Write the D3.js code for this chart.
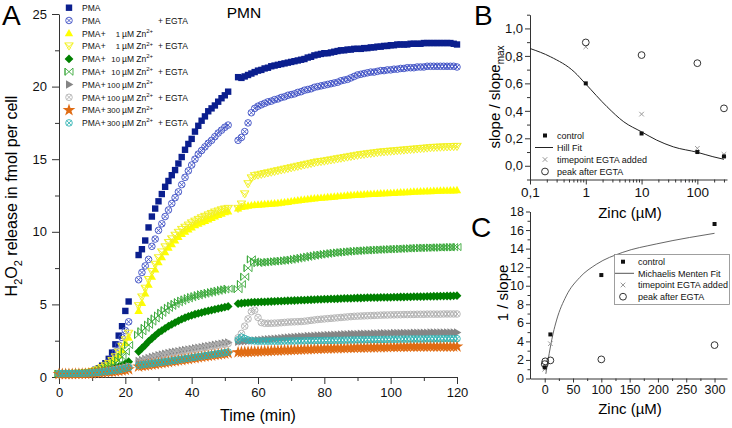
<!DOCTYPE html>
<html><head><meta charset="utf-8">
<script src="https://cdn.jsdelivr.net/npm/d3@7"></script>
<style>
body{margin:0;background:#fff;}
svg{display:block;font-family:"Liberation Sans",Arial,sans-serif;}
</style></head><body>
<svg id="c" width="732" height="428"></svg>
<script>
// ---------------- Panel A data (time in min, H2O2 in fmol per cell) ----------------
const times = [0,1,2,3,4,5,6,7,8,9,10,11,12,13,14,15,16,17,18,19,20,21,
24,25,26,27,28,29,30,31,32,33,34,35,36,37,38,39,40,41,42,43,44,45,46,47,48,49,50,51,
54,55,56,57,58,59,60,61,62,63,64,65,66,67,68,69,70,71,72,73,74,75,76,77,78,79,80,81,82,83,84,85,86,87,88,89,90,91,92,93,94,95,96,97,98,99,100,101,102,103,104,105,106,107,108,109,110,111,112,113,114,115,116,117,118,119,120];

const pma = [0.2,0.2,0.21,0.21,0.22,0.23,0.24,0.26,0.28,0.32,
0.4,0.5,0.6,0.78,0.95,1.25,1.68,2.25,2.85,3.5,4.55,5.2,
8.4,8.8,9.4,10.3,11.05,11.6,12.1,12.6,13.1,13.5,13.9,14.25,14.7,15.15,15.65,16.05,16.4,16.9,17.3,17.65,17.95,18.3,18.5,18.7,18.96,19.2,19.4,19.65,
20.65,20.6,20.7,20.8,20.9,21.0,21.1,21.15,21.25,21.3,
21.4,21.45,21.5,21.55,21.6,21.65,21.7,21.75,21.8,21.85,
21.9,22.0,22.05,22.15,22.2,22.25,22.3,22.3,22.35,22.4,
22.45,22.5,22.5,22.55,22.55,22.6,22.6,22.6,22.65,22.65,
22.7,22.7,22.75,22.75,22.8,22.8,22.85,22.85,22.9,22.9,
22.9,22.9,22.95,22.95,22.95,22.95,23.0,23.0,23.0,23.0,
23.0,23.0,23.0,23.0,23.0,22.95,22.9];

const pmaEgta = [0.22,0.22,0.22,0.23,0.23,0.24,0.25,0.27,0.29,0.32,
0.36,0.44,0.55,0.68,0.84,1.04,1.33,1.72,2.2,2.72,3.2,3.8,
6.7,7.2,7.65,8.1,9.0,9.5,10.1,10.55,11.05,11.5,11.95,12.35,12.75,13.25,13.75,14.2,14.6,15.0,15.35,15.6,15.85,16.1,16.3,16.55,16.8,17.0,17.2,17.35,
16.3,16.5,16.9,17.5,18.2,18.5,18.65,18.75,18.85,18.95,
19.0,19.1,19.15,19.25,19.3,19.4,19.45,19.5,19.6,19.65,
19.75,19.8,19.85,19.95,20.0,20.05,20.1,20.15,20.2,20.25,
20.3,20.4,20.45,20.5,20.6,20.7,20.8,20.85,20.9,20.95,
21.0,21.0,21.05,21.1,21.1,21.15,21.15,21.2,21.2,21.25,
21.25,21.3,21.3,21.3,21.35,21.35,21.35,21.4,21.4,21.4,
21.4,21.4,21.4,21.4,21.4,21.4,21.35];

const zn1 = [0.2,0.2,0.2,0.21,0.22,0.22,0.23,0.25,0.27,0.3,
0.35,0.42,0.5,0.6,0.72,0.85,1.05,1.25,1.5,1.85,2.35,2.7,
4.55,5.1,5.75,6.35,6.9,7.4,7.9,8.25,8.6,8.9,9.15,9.4,9.65,9.85,10.0,10.15,10.3,10.45,10.55,10.65,10.75,10.85,10.95,11.05,11.15,11.25,11.35,11.4,
11.6,11.7,11.75,11.8,11.82,11.85,11.87,11.88,11.9,11.92,
11.94,11.95,11.97,12.0,12.03,12.06,12.1,12.13,12.16,12.19,
12.22,12.25,12.28,12.3,12.32,12.34,12.36,12.38,12.4,12.42,
12.44,12.46,12.48,12.5,12.52,12.53,12.55,12.56,12.58,12.59,
12.6,12.61,12.62,12.64,12.65,12.66,12.67,12.68,12.7,12.71,
12.72,12.73,12.74,12.76,12.77,12.78,12.79,12.8,12.8,12.81,
12.82,12.83,12.84,12.84,12.85,12.85,12.86];

const zn1Egta = [0.22,0.22,0.22,0.23,0.23,0.24,0.25,0.26,0.28,0.31,
0.35,0.43,0.52,0.63,0.76,0.92,1.12,1.38,1.7,2.1,2.55,3.0,
4.9,5.5,6.1,6.7,7.25,7.75,8.2,8.6,8.95,9.25,9.5,9.75,9.95,10.15,10.3,10.45,10.6,10.72,10.84,10.95,11.05,11.15,11.25,11.35,11.42,11.5,11.56,11.6,
11.6,11.9,12.6,13.3,13.7,13.85,13.9,13.95,14.0,14.05,
14.1,14.15,14.2,14.25,14.3,14.35,14.4,14.45,14.5,14.55,
14.6,14.65,14.7,14.75,14.8,14.83,14.86,14.9,14.94,14.98,
15.02,15.06,15.1,15.14,15.18,15.22,15.26,15.3,15.33,15.36,
15.39,15.42,15.45,15.48,15.5,15.52,15.54,15.56,15.58,15.6,
15.62,15.64,15.66,15.68,15.7,15.72,15.74,15.76,15.78,15.8,
15.81,15.82,15.83,15.84,15.85,15.86,15.87];

const zn10 = [0.2,0.2,0.2,0.2,0.21,0.21,0.22,0.23,0.24,0.26,
0.28,0.31,0.35,0.4,0.45,0.5,0.56,0.63,0.71,0.8,0.92,1.05,
1.75,1.98,2.2,2.45,2.65,2.85,3.05,3.2,3.35,3.5,3.63,3.75,3.87,3.98,4.08,4.17,4.25,4.32,4.38,4.44,4.5,4.55,4.6,4.66,4.71,4.76,4.81,4.86,
5.05,5.08,5.1,5.12,5.14,5.15,5.16,5.17,5.18,5.19,
5.2,5.21,5.22,5.23,5.24,5.25,5.26,5.27,5.28,5.29,
5.3,5.31,5.32,5.33,5.34,5.35,5.36,5.37,5.38,5.38,
5.39,5.4,5.41,5.42,5.42,5.43,5.44,5.44,5.45,5.46,
5.46,5.47,5.47,5.48,5.48,5.49,5.49,5.5,5.5,5.51,
5.51,5.52,5.52,5.53,5.53,5.54,5.54,5.55,5.55,5.56,
5.56,5.57,5.57,5.58,5.58,5.59,5.6];

const zn10Egta = [0.22,0.22,0.22,0.22,0.23,0.23,0.24,0.25,0.26,0.28,
0.3,0.35,0.4,0.47,0.55,0.65,0.78,0.95,1.15,1.4,1.75,2.2,
2.9,3.15,3.38,3.6,3.82,4.03,4.23,4.42,4.6,4.76,4.9,5.03,5.15,5.25,5.34,5.42,5.5,5.56,5.63,5.69,5.74,5.79,5.84,5.89,5.94,5.99,6.03,6.08,
6.05,6.4,6.9,7.5,8.1,7.95,7.85,7.88,7.9,7.92,
7.94,7.96,7.98,8.0,8.02,8.05,8.08,8.12,8.16,8.2,
8.24,8.28,8.32,8.36,8.4,8.43,8.46,8.49,8.52,8.55,
8.57,8.59,8.61,8.63,8.65,8.67,8.68,8.7,8.71,8.72,
8.74,8.75,8.76,8.77,8.78,8.79,8.8,8.81,8.82,8.83,
8.84,8.85,8.86,8.87,8.88,8.89,8.9,8.9,8.91,8.91,
8.92,8.92,8.93,8.93,8.94,8.94,8.95];

const zn100 = [0.2,0.2,0.2,0.2,0.21,0.21,0.21,0.22,0.23,0.25,
0.27,0.3,0.33,0.36,0.39,0.43,0.47,0.52,0.57,0.62,0.68,0.75,
1.1,1.17,1.24,1.31,1.38,1.44,1.5,1.55,1.6,1.65,1.7,1.74,1.78,1.82,1.86,1.9,1.94,1.98,2.02,2.06,2.1,2.14,2.18,2.22,2.26,2.3,2.34,2.38,
2.42,2.44,2.46,2.48,2.5,2.52,2.54,2.56,2.58,2.6,
2.62,2.64,2.66,2.68,2.7,2.72,2.74,2.76,2.78,2.79,
2.8,2.82,2.83,2.84,2.86,2.87,2.88,2.89,2.9,2.91,
2.92,2.93,2.94,2.95,2.96,2.96,2.97,2.98,2.98,2.99,
2.99,3.0,3.0,3.01,3.01,3.02,3.02,3.03,3.03,3.03,
3.04,3.04,3.04,3.05,3.05,3.05,3.05,3.05,3.06,3.06,
3.06,3.06,3.06,3.06,3.06,3.06,3.06];

const zn100Egta = [0.22,0.22,0.22,0.22,0.22,0.23,0.23,0.24,0.25,0.26,
0.28,0.3,0.33,0.36,0.39,0.42,0.46,0.5,0.55,0.6,0.65,0.72,
1.05,1.12,1.19,1.25,1.31,1.37,1.42,1.47,1.52,1.57,1.62,1.66,1.7,1.74,1.78,1.82,1.86,1.9,1.94,1.98,2.02,2.06,2.1,2.14,2.18,2.22,2.26,2.3,
2.7,3.0,3.5,4.0,4.5,4.6,4.1,3.75,3.7,3.7,
3.7,3.71,3.72,3.74,3.76,3.78,3.79,3.8,3.81,3.82,
3.84,3.87,3.9,3.93,3.96,3.98,4.0,4.02,4.04,4.06,
4.08,4.1,4.12,4.14,4.16,4.18,4.19,4.2,4.21,4.22,
4.23,4.24,4.25,4.26,4.27,4.27,4.28,4.28,4.29,4.29,
4.3,4.3,4.31,4.31,4.32,4.32,4.32,4.33,4.33,4.33,
4.33,4.33,4.34,4.34,4.34,4.34,4.34];

const zn300 = [0.2,0.2,0.2,0.2,0.2,0.21,0.21,0.21,0.22,0.23,
0.25,0.27,0.29,0.31,0.33,0.35,0.37,0.39,0.42,0.45,0.49,0.53,
0.72,0.76,0.79,0.82,0.86,0.89,0.93,0.96,1.0,1.03,1.07,1.1,1.14,1.17,1.21,1.24,1.28,1.31,1.35,1.38,1.42,1.45,1.48,1.52,1.55,1.58,1.61,1.64,
1.7,1.71,1.72,1.73,1.74,1.75,1.76,1.77,1.78,1.79,
1.8,1.81,1.82,1.83,1.84,1.85,1.86,1.87,1.88,1.89,
1.9,1.91,1.92,1.93,1.94,1.95,1.95,1.96,1.97,1.97,
1.98,1.99,1.99,2.0,2.0,2.01,2.02,2.02,2.03,2.03,
2.04,2.04,2.05,2.05,2.06,2.06,2.07,2.07,2.07,2.08,
2.08,2.08,2.09,2.09,2.09,2.09,2.1,2.1,2.1,2.1,
2.1,2.1,2.1,2.1,2.1,2.1,2.1];

const zn300Egta = [0.24,0.24,0.24,0.24,0.24,0.25,0.25,0.25,0.26,0.27,
0.28,0.3,0.32,0.35,0.37,0.4,0.43,0.46,0.5,0.54,0.6,0.65,
0.8,0.84,0.87,0.9,0.93,0.96,0.99,1.02,1.05,1.08,1.12,1.15,1.19,1.22,1.26,1.29,1.33,1.36,1.4,1.43,1.47,1.5,1.54,1.57,1.61,1.64,1.68,1.72,
2.55,2.75,2.65,2.55,2.5,2.48,2.47,2.47,2.47,2.47,
2.47,2.47,2.47,2.47,2.48,2.48,2.48,2.48,2.49,2.49,
2.49,2.5,2.5,2.5,2.51,2.51,2.52,2.52,2.52,2.53,
2.53,2.53,2.54,2.54,2.55,2.55,2.56,2.56,2.56,2.57,
2.57,2.58,2.58,2.58,2.59,2.59,2.6,2.6,2.6,2.61,
2.61,2.61,2.62,2.62,2.62,2.62,2.62,2.63,2.63,2.63,
2.63,2.63,2.64,2.64,2.64,2.64,2.64];

const legendConc = [null, null, "1", "1", "10", "10", "100", "100", "300", "300"];
const legendEgta = [false, true, false, true, false, true, false, true, false, true];
const xTicksA = [0, 20, 40, 60, 80, 100, 120];
const yTicksA = [0, 5, 10, 15, 20, 25];

// ---------------- Panel B data ----------------
const zincB = [1, 10, 100, 300];
const controlB = [0.6, 0.235, 0.1, 0.068];
const egtaTimeB = [0.866, 0.376, 0.127, 0.083];
const peakB = [0.898, 0.806, 0.747, 0.418];
const hillX = [0.1, 0.235, 0.62, 1, 2.4, 4.8, 10, 18.6, 37, 100, 190, 300];
const hillY = [0.854, 0.793, 0.684, 0.595, 0.43, 0.32, 0.247, 0.187, 0.138, 0.098, 0.066, 0.047];
const yTicksB = [0, 0.2, 0.4, 0.6, 0.8, 1.0];
const xTicksB = [0.1, 1, 10, 100];

// ---------------- Panel C data ----------------
const zincCctl = [0, 10, 100, 300];
const controlC = [1.2, 4.75, 11.15, 16.65];
const zincCegta = [0, 10];
const egtaTimeC = [1.0, 3.75];
const zincCpeak = [0, 1, 10, 100, 300];
const peakC = [1.55, 1.85, 1.95, 2.06, 3.6];
const mmX = [2, 6, 10, 15, 21, 38, 62, 91, 138, 197, 256, 300];
const mmY = [0.5, 2.0, 3.4, 4.9, 6.3, 8.9, 10.9, 12.3, 13.6, 14.5, 15.2, 15.65];
const yTicksC = [0, 2, 4, 6, 8, 10, 12, 14, 16, 18];
const xTicksC = [0, 50, 100, 150, 200, 250, 300];

// ---------------- drawing ----------------
const svg = d3.select("#c");
const FONT = '"Liberation Sans", Arial, sans-serif';
const AX = "#333";

const SYM = {
  square: "M-3.2,-3.2H3.2V3.2H-3.2Z",
  circX: "M-3.3,0A3.3,3.3,0,1,0,3.3,0A3.3,3.3,0,1,0,-3.3,0ZM-2.3,-2.3L2.3,2.3M-2.3,2.3L2.3,-2.3",
  triUp: "M0,-4.4L4.2,3H-4.2Z",
  triDownX: "M-4.2,-3.2H4.2L0,4ZM-4.2,-3.2L2.1,2.2M4.2,-3.2L-2.1,2.2",
  diamond: "M0,-4.4L4.4,0L0,4.4L-4.4,0Z",
  bowX: "M-4,-3.6L4,3.6V-3.6L-4,3.6ZM-4,-3.6V3.6",
  triRight: "M4.4,0L-3,4.2V-4.2Z",
  star: d3.symbol(d3.symbolStar, 50)()
};

const series = [
  {v: pma,       sym: "square",   fill: "#0b1f8e", stroke: "none"},
  {v: pmaEgta,   sym: "circX",    fill: "none",    stroke: "#3d4fc4"},
  {v: zn1,       sym: "triUp",    fill: "#ffff00", stroke: "none"},
  {v: zn1Egta,   sym: "triDownX", fill: "none",    stroke: "#f2f020"},
  {v: zn10,      sym: "diamond",  fill: "#008000", stroke: "none"},
  {v: zn10Egta,  sym: "bowX",     fill: "none",    stroke: "#3aa83a"},
  {v: zn100,     sym: "triRight", fill: "#858585", stroke: "none"},
  {v: zn100Egta, sym: "circX",    fill: "none",    stroke: "#b2b2b2"},
  {v: zn300,     sym: "star",     fill: "#e06c14", stroke: "none"},
  {v: zn300Egta, sym: "circX",    fill: "none",    stroke: "#2fb2b2"}
];

function styleAxis(g, fs) {
  g.attr("font-family", FONT).attr("font-size", fs);
  g.select(".domain").attr("stroke", AX).attr("stroke-width", 1);
  g.selectAll(".tick line").attr("stroke", AX).attr("stroke-width", 1);
  g.selectAll(".tick text").attr("fill", "#111");
}

// ===== Panel A =====
const xA = d3.scaleLinear().domain([0, 120]).range([59, 457]);
const yA = d3.scaleLinear().domain([0, 25]).range([377, 14]);

const gA = svg.append("g");
gA.append("g").attr("transform", "translate(0,377)")
  .call(d3.axisBottom(xA).tickValues(xTicksA).tickSize(7).tickSizeOuter(0).tickPadding(4))
  .call(g => styleAxis(g, 13));
gA.append("g").attr("transform", "translate(0,377)")
  .call(d3.axisBottom(xA).tickValues([10,30,50,70,90,110]).tickSize(4).tickFormat(""))
  .call(g => { styleAxis(g, 13); g.select(".domain").remove(); });
gA.append("g").attr("transform", "translate(59,0)")
  .call(d3.axisLeft(yA).tickValues(yTicksA).tickSize(7).tickSizeOuter(0).tickPadding(5))
  .call(g => styleAxis(g, 13));
gA.append("g").attr("transform", "translate(59,0)")
  .call(d3.axisLeft(yA).tickValues([2.5,7.5,12.5,17.5,22.5]).tickSize(4).tickFormat(""))
  .call(g => { styleAxis(g, 13); g.select(".domain").remove(); });

series.forEach(s => {
  const pts = times.map((t, i) => [t, s.v[i]]).filter(d => d[1] != null);
  gA.append("g").selectAll("path").data(pts).join("path")
    .attr("transform", d => `translate(${xA(d[0]).toFixed(2)},${yA(d[1]).toFixed(2)})`)
    .attr("d", SYM[s.sym])
    .attr("fill", s.fill)
    .attr("stroke", s.stroke)
    .attr("stroke-width", s.stroke === "none" ? 0 : 0.9);
});

// legend A
const legA = gA.append("g").attr("font-family", FONT).attr("font-size", 8.5).attr("fill", "#111");
series.forEach((s, i) => {
  const yy = 7.7 + 12.8 * i;
  legA.append("path").attr("transform", `translate(69,${yy})`).attr("d", SYM[s.sym])
    .attr("fill", s.fill).attr("stroke", s.stroke).attr("stroke-width", s.stroke === "none" ? 0 : 0.9);
  const ty = yy + 3.2;
  legA.append("text").attr("x", 82).attr("y", ty).text("PMA");
  if (legendConc[i] !== null) {
    legA.append("text").attr("x", 100.8).attr("y", ty).text("+");
    legA.append("text").attr("x", 120).attr("y", ty).attr("text-anchor", "end")
      .attr("font-size", 7.8).text(legendConc[i]);
    const t = legA.append("text").attr("x", 122).attr("y", ty);
    t.append("tspan").text("µM Zn");
    t.append("tspan").attr("dy", -3.8).attr("font-size", 6).text("2+");
  }
  if (legendEgta[i]) legA.append("text").attr("x", 158).attr("y", ty).text("+ EGTA");
});

// titles A
svg.append("text").attr("x", 2).attr("y", 25).attr("font-family", FONT).attr("font-size", 28).text("A");
svg.append("text").attr("x", 244).attr("y", 18).attr("text-anchor", "middle")
  .attr("font-family", FONT).attr("font-size", 15.5).text("PMN");
svg.append("text").attr("x", 258).attr("y", 421).attr("text-anchor", "middle")
  .attr("font-family", FONT).attr("font-size", 16).text("Time (min)");
const yt = svg.append("text").attr("transform", "translate(17,196) rotate(-90)")
  .attr("text-anchor", "middle").attr("font-family", FONT).attr("font-size", 16);
yt.append("tspan").text("H");
yt.append("tspan").attr("dy", 4.5).attr("font-size", 11).text("2");
yt.append("tspan").attr("dy", -4.5).text("O");
yt.append("tspan").attr("dy", 4.5).attr("font-size", 11).text("2");
yt.append("tspan").attr("dy", -4.5).text(" release in fmol per cell");

// ===== Panel B =====
const xB = d3.scaleLog().domain([0.1, 340]).range([530, 727]);
const yB = d3.scaleLinear().domain([-0.1, 1.1]).range([179.5, 14.7]);
const gB = svg.append("g");
gB.append("g").attr("transform", "translate(0,179.5)")
  .call(d3.axisBottom(xB).tickValues(xTicksB).tickSize(5).tickSizeOuter(0).tickPadding(3)
    .tickFormat(d => d < 1 ? "0,1" : String(d)))
  .call(g => styleAxis(g, 13.5));
gB.append("g").attr("transform", "translate(0,179.5)")
  .call(d3.axisBottom(xB).tickValues([0.2,0.3,0.4,0.5,0.6,0.7,0.8,0.9,2,3,4,5,6,7,8,9,20,30,40,50,60,70,80,90,200,300]).tickSize(3).tickFormat(""))
  .call(g => { styleAxis(g, 13.5); g.select(".domain").remove(); });
gB.append("g").attr("transform", "translate(530,0)")
  .call(d3.axisLeft(yB).tickValues(yTicksB).tickSize(5).tickSizeOuter(0).tickPadding(2)
    .tickFormat(d => d3.format(".1f")(d).replace(".", ",")))
  .call(g => styleAxis(g, 13));
gB.append("g").attr("transform", "translate(530,0)")
  .call(d3.axisLeft(yB).tickValues([-0.1,0.1,0.3,0.5,0.7,0.9,1.1]).tickSize(3).tickFormat(""))
  .call(g => { styleAxis(g, 13); g.select(".domain").remove(); });

const hill = hillX.map((x, i) => [x, hillY[i]]);
gB.append("path").datum(hill)
  .attr("d", d3.line().x(d => xB(d[0])).y(d => yB(d[1])).curve(d3.curveMonotoneX))
  .attr("fill", "none").attr("stroke", "#222").attr("stroke-width", 1);

const crossP = "M-2.3,-2.3L2.3,2.3M-2.3,2.3L2.3,-2.3";
const circP = "M-3.4,0A3.4,3.4,0,1,0,3.4,0A3.4,3.4,0,1,0,-3.4,0Z";
const sqP = "M-2,-2H2V2H-2Z";
gB.append("g").selectAll("path").data(zincB.map((z, i) => [z, egtaTimeB[i]])).join("path")
  .attr("transform", d => `translate(${xB(d[0])},${yB(d[1])})`).attr("d", crossP)
  .attr("stroke", "#999").attr("stroke-width", 1).attr("fill", "none");
gB.append("g").selectAll("path").data(zincB.map((z, i) => [z, peakB[i]])).join("path")
  .attr("transform", d => `translate(${xB(d[0])},${yB(d[1])})`).attr("d", circP)
  .attr("stroke", "#333").attr("stroke-width", 1).attr("fill", "none");
gB.append("g").selectAll("path").data(zincB.map((z, i) => [z, controlB[i]])).join("path")
  .attr("transform", d => `translate(${xB(d[0])},${yB(d[1])})`).attr("d", sqP).attr("fill", "#111");

// legend B
const legB = gB.append("g").attr("font-family", FONT).attr("font-size", 9).attr("fill", "#111");
const legBy = [135.5, 147.5, 159.5, 171.5];
legB.append("path").attr("transform", `translate(545,${legBy[0]})`).attr("d", sqP).attr("fill", "#111");
legB.append("line").attr("x1", 535).attr("x2", 553).attr("y1", legBy[1]).attr("y2", legBy[1]).attr("stroke", "#222");
legB.append("path").attr("transform", `translate(545,${legBy[2]})`).attr("d", crossP).attr("stroke", "#999").attr("fill", "none");
legB.append("path").attr("transform", `translate(545,${legBy[3]})`).attr("d", circP).attr("stroke", "#333").attr("fill", "none");
["control", "Hill Fit", "timepoint EGTA added", "peak after EGTA"].forEach((t, i) =>
  legB.append("text").attr("x", 557).attr("y", legBy[i] + 3.3).text(t));

svg.append("text").attr("x", 474).attr("y", 25).attr("font-family", FONT).attr("font-size", 28).text("B");
const ybt = svg.append("text").attr("transform", "translate(500,97) rotate(-90)")
  .attr("text-anchor", "middle").attr("font-family", FONT).attr("font-size", 15);
ybt.append("tspan").text("slope / slope");
ybt.append("tspan").attr("dy", 4).attr("font-size", 10).text("max");
svg.append("text").attr("x", 630).attr("y", 218).attr("text-anchor", "middle")
  .attr("font-family", FONT).attr("font-size", 15).text("Zinc (µM)");

// ===== Panel C =====
const xC = d3.scaleLinear().domain([-26, 322]).range([530, 727]);
const yC = d3.scaleLinear().domain([0, 18]).range([378.5, 211.5]);
const gC = svg.append("g");
gC.append("g").attr("transform", "translate(0,378.5)")
  .call(d3.axisBottom(xC).tickValues(xTicksC).tickSize(4).tickSizeOuter(0).tickPadding(3))
  .call(g => styleAxis(g, 12.5));
gC.append("g").attr("transform", "translate(0,378.5)")
  .call(d3.axisBottom(xC).tickValues([25,75,125,175,225,275]).tickSize(2.5).tickFormat(""))
  .call(g => { styleAxis(g, 12.5); g.select(".domain").remove(); });
gC.append("g").attr("transform", "translate(530,0)")
  .call(d3.axisLeft(yC).tickValues(yTicksC).tickSize(4).tickSizeOuter(0).tickPadding(2))
  .call(g => styleAxis(g, 12.5));
gC.append("g").attr("transform", "translate(530,0)")
  .call(d3.axisLeft(yC).tickValues([1,3,5,7,9,11,13,15,17]).tickSize(2.5).tickFormat(""))
  .call(g => { styleAxis(g, 12.5); g.select(".domain").remove(); });

const mm = mmX.map((x, i) => [x, mmY[i]]);
gC.append("path").datum(mm)
  .attr("d", d3.line().x(d => xC(d[0])).y(d => yC(d[1])).curve(d3.curveMonotoneX))
  .attr("fill", "none").attr("stroke", "#555").attr("stroke-width", 0.9);
gC.append("g").selectAll("path").data(zincCegta.map((z, i) => [z, egtaTimeC[i]])).join("path")
  .attr("transform", d => `translate(${xC(d[0])},${yC(d[1])})`).attr("d", crossP)
  .attr("stroke", "#999").attr("stroke-width", 1).attr("fill", "none");
gC.append("g").selectAll("path").data(zincCpeak.map((z, i) => [z, peakC[i]])).join("path")
  .attr("transform", d => `translate(${xC(d[0])},${yC(d[1])})`).attr("d", circP)
  .attr("stroke", "#333").attr("stroke-width", 1).attr("fill", "none");
gC.append("g").selectAll("path").data(zincCctl.map((z, i) => [z, controlC[i]])).join("path")
  .attr("transform", d => `translate(${xC(d[0])},${yC(d[1])})`).attr("d", sqP).attr("fill", "#111");

// legend C
const legC = gC.append("g").attr("font-family", FONT).attr("font-size", 9).attr("fill", "#111");
legC.append("rect").attr("x", 614.5).attr("y", 254.5).attr("width", 115).attr("height", 50)
  .attr("fill", "#fff").attr("stroke", "#888").attr("stroke-width", 0.8);
const legCy = [261.7, 273.3, 285, 296.7];
legC.append("path").attr("transform", `translate(623,${legCy[0]})`).attr("d", sqP).attr("fill", "#111");
legC.append("line").attr("x1", 615).attr("x2", 634).attr("y1", legCy[1]).attr("y2", legCy[1]).attr("stroke", "#555");
legC.append("path").attr("transform", `translate(623,${legCy[2]})`).attr("d", crossP).attr("stroke", "#999").attr("fill", "none");
legC.append("path").attr("transform", `translate(623,${legCy[3]})`).attr("d", circP).attr("stroke", "#333").attr("fill", "none");
["control", "Michaelis Menten Fit", "timepoint EGTA added", "peak after EGTA"].forEach((t, i) =>
  legC.append("text").attr("x", 638).attr("y", legCy[i] + 3.3).text(t));

svg.append("text").attr("x", 471).attr("y", 237).attr("font-family", FONT).attr("font-size", 28).text("C");
svg.append("text").attr("transform", "translate(508,293) rotate(-90)").attr("text-anchor", "middle")
  .attr("font-family", FONT).attr("font-size", 15).text("1 / slope");
svg.append("text").attr("x", 630).attr("y", 414).attr("text-anchor", "middle")
  .attr("font-family", FONT).attr("font-size", 15).text("Zinc (µM)");
</script>
</body></html>
